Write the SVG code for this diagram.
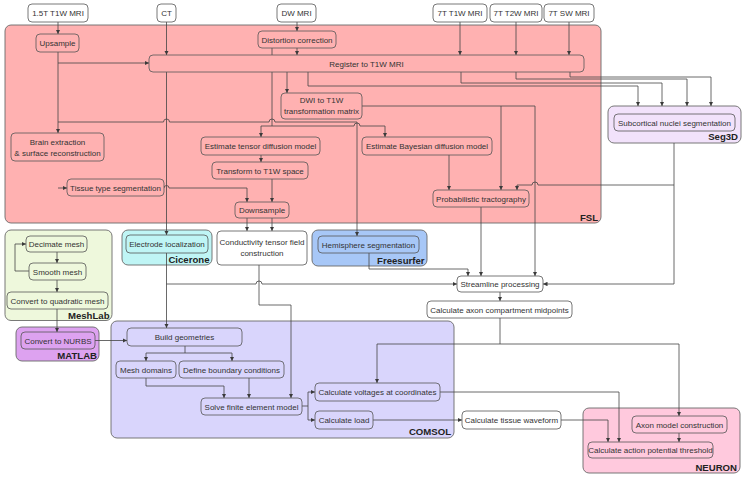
<svg xmlns="http://www.w3.org/2000/svg" width="745" height="478" viewBox="0 0 745 478">
<defs>
<marker id="ah" viewBox="0 0 6 6" refX="6" refY="3" markerWidth="4.5" markerHeight="4.5" orient="auto" markerUnits="userSpaceOnUse"><path d="M0,0 L6,3 L0,6 z" fill="#3a3a3a"/></marker>
</defs>
<style>
.grp{stroke:#6a6a6a;stroke-width:0.9}
.nd{stroke:#555;stroke-width:0.8}
.w{fill:#fff}
.fsl{fill:#ffb1b1}.seg{fill:#f2e2fb}.mesh{fill:#eef8dc}.cic{fill:#bff5f5}.fs{fill:#a7c7f7}.mat{fill:#dda2f0}.com{fill:#d9d5fc}.neu{fill:#ffc9dd}
text{font-family:"Liberation Sans",Arial,sans-serif;font-size:8px;fill:#333;text-anchor:middle}
text.lb{font-size:9.6px;font-weight:bold;fill:#222;text-anchor:end}
#conn path{fill:none;stroke:#444;stroke-width:0.8}
#conn path.a{marker-end:url(#ah)}
</style>
<g id="containers">
<g id="FSL"><rect class="grp fsl" x="5" y="25" width="596" height="198" rx="6"/><text class="lb" x="598" y="220.5">FSL</text></g>
<g id="Seg3D"><rect class="grp seg" x="608" y="106" width="133" height="37" rx="6"/><text class="lb" x="738" y="139.5">Seg3D</text></g>
<g id="MeshLab"><rect class="grp mesh" x="5" y="230" width="107" height="90.5" rx="6"/><text class="lb" x="109.5" y="318.5">MeshLab</text></g>
<g id="Cicerone"><rect class="grp cic" x="122" y="230" width="90" height="35" rx="6"/><text class="lb" x="209.5" y="263">Cicerone</text></g>
<g id="Freesurfer"><rect class="grp fs" x="312" y="230" width="115" height="36" rx="6"/><text class="lb" x="424.5" y="263.5">Freesurfer</text></g>
<g id="MATLAB"><rect class="grp mat" x="16" y="327" width="83" height="34" rx="6"/><text class="lb" x="97" y="358.5">MATLAB</text></g>
<g id="COMSOL"><rect class="grp com" x="111" y="321" width="343" height="117" rx="6"/><text class="lb" x="451" y="434.5">COMSOL</text></g>
<g id="NEURON"><rect class="grp neu" x="583" y="408" width="157" height="65" rx="6"/><text class="lb" x="737" y="470.5">NEURON</text></g>
</g>
<g id="conn">
<path class="a" d="M58,22 V34"/>
<path class="a" d="M58,52 V133"/>
<path class="a" d="M58,63 H149"/>
<path class="a" d="M166.5,22 V55"/>
<path class="a" d="M297,22 V31"/>
<path class="a" d="M297,48 V55"/>
<path class="a" d="M460,22 V55"/>
<path class="a" d="M516,22 V55"/>
<path class="a" d="M569,22 V55"/>
<path class="a" d="M166.5,72 V235"/>
<path class="a" d="M287,72 V93"/>
<path class="a" d="M308,72 V86 H638 V106"/>
<path class="a" d="M461,72 V83 H662 V106"/>
<path class="a" d="M516,72 V79 H687 V106"/>
<path class="a" d="M570,72 V77 H711 V106"/>
<path d="M272,48 V126"/>
<path class="a" d="M58,122 H163.5 A3,3 0 0 1 169.5,122 H269 A3,3 0 0 1 275,122 H357 V236"/>
<path class="a" d="M261,126 H354 A3,3 0 0 1 360,126 H385 V137"/>
<path class="a" d="M261,126 V137"/>
<path class="a" d="M362,106 H535 V276"/>
<path class="a" d="M501,106 V190"/>
<path class="a" d="M449,155 V190"/>
<path class="a" d="M261,155 V162"/>
<path class="a" d="M272,179 V202"/>
<path class="a" d="M58,188 H67"/>
<path class="a" d="M164,188 A2.5,2.5 0 0 1 169,188 H247 V202"/>
<path class="a" d="M247,218 V231"/>
<path class="a" d="M272,218 V231"/>
<path class="a" d="M674,143 V284 H543"/>
<path class="a" d="M674,185 H538 A3,3 0 0 0 532,185 H517 V190"/>
<path class="a" d="M481,207 V276"/>
<path class="a" d="M369,253 V269 H468 V276"/>
<path class="a" d="M166.5,253 V328"/>
<path class="a" d="M166.5,284 H256 A3,3 0 0 1 262,284 H457"/>
<path class="a" d="M259,265 V305 H291 V398"/>
<path class="a" d="M500,292 V301"/>
<path d="M500,318 V344"/>
<path class="a" d="M377,344 H679 V416"/>
<path class="a" d="M377,344 V383"/>
<path class="a" d="M440,392 H619 V442"/>
<path class="a" d="M373,420 H462"/>
<path class="a" d="M561,420 H608 V442"/>
<path class="a" d="M679,433 V442"/>
<path class="a" d="M302,406 H308 V392 H315"/>
<path class="a" d="M308,406 V420 H315"/>
<path class="a" d="M57,252 V263"/>
<path class="a" d="M57,280 V292"/>
<path class="a" d="M29,271 H15 V244 H26"/>
<path class="a" d="M57,309 V332"/>
<path class="a" d="M95,340.5 H127"/>
<path class="a" d="M185,346 V353 H146 V361"/>
<path class="a" d="M185,353 H232 V361"/>
<path class="a" d="M146,378 V386 H224 V398"/>
<path class="a" d="M249,378 V398"/>
</g>
<g id="nodes">
<g id="in_15t"><rect class="nd w" x="28" y="4" width="60" height="18" rx="4"/><text x="58" y="16">1.5T T1W MRI</text></g>
<g id="in_ct"><rect class="nd w" x="157" y="4" width="19" height="18" rx="4"/><text x="166.5" y="16">CT</text></g>
<g id="in_dw"><rect class="nd w" x="277" y="4" width="39" height="18" rx="4"/><text x="296.5" y="16">DW MRI</text></g>
<g id="in_7t1"><rect class="nd w" x="433" y="4" width="54" height="18" rx="4"/><text x="460" y="16">7T T1W MRI</text></g>
<g id="in_7t2"><rect class="nd w" x="490" y="4" width="52" height="18" rx="4"/><text x="516" y="16">7T T2W MRI</text></g>
<g id="in_7sw"><rect class="nd w" x="544" y="4" width="50" height="18" rx="4"/><text x="569" y="16">7T SW MRI</text></g>
<g id="upsample"><rect class="nd fsl" x="36" y="34" width="43" height="18" rx="4"/><text x="57.5" y="46">Upsample</text></g>
<g id="distortion"><rect class="nd fsl" x="258" y="31" width="78" height="17" rx="4"/><text x="297" y="42.5">Distortion correction</text></g>
<g id="register"><rect class="nd fsl" x="149" y="55" width="435" height="17" rx="4"/><text x="366.5" y="66.5">Register to T1W MRI</text></g>
<g id="dwi2t1w"><rect class="nd fsl" x="281" y="93" width="81" height="26" rx="4"/><text x="321.5" y="103">DWI to T1W</text><text x="321.5" y="113.5">transformation matrix</text></g>
<g id="brainext"><rect class="nd fsl" x="11" y="133" width="93" height="28" rx="4"/><text x="57.5" y="144.5">Brain extraction</text><text x="57.5" y="155.5">&amp; surface reconstruction</text></g>
<g id="tensor"><rect class="nd fsl" x="201" y="137" width="119" height="18" rx="4"/><text x="260.5" y="149">Estimate tensor diffusion model</text></g>
<g id="bayes"><rect class="nd fsl" x="362" y="137" width="130" height="18" rx="4"/><text x="427" y="149">Estimate Bayesian diffusion model</text></g>
<g id="transform"><rect class="nd fsl" x="212" y="162" width="96" height="17" rx="4"/><text x="260" y="173.5">Transform to T1W space</text></g>
<g id="tissue"><rect class="nd fsl" x="67" y="179" width="97" height="17" rx="4"/><text x="115.5" y="190.5">Tissue type segmentation</text></g>
<g id="downsample"><rect class="nd fsl" x="235" y="202" width="54" height="16" rx="4"/><text x="262" y="213">Downsample</text></g>
<g id="probtract"><rect class="nd fsl" x="433" y="190" width="96" height="17" rx="4"/><text x="481" y="201.5">Probabilistic tractography</text></g>
<g id="subcortical"><rect class="nd seg" x="614" y="114" width="121" height="17" rx="4"/><text x="674.5" y="125.5">Subcortical nuclei segmentation</text></g>
<g id="decimate"><rect class="nd mesh" x="26" y="236" width="61" height="16" rx="4"/><text x="56.5" y="247">Decimate mesh</text></g>
<g id="smooth"><rect class="nd mesh" x="29" y="263" width="57" height="17" rx="4"/><text x="57.5" y="274.5">Smooth mesh</text></g>
<g id="quadratic"><rect class="nd mesh" x="7" y="292" width="101" height="17" rx="4"/><text x="57.5" y="303.5">Convert to quadratic mesh</text></g>
<g id="electrode"><rect class="nd cic" x="126" y="235" width="82" height="18" rx="4"/><text x="167" y="247">Electrode localization</text></g>
<g id="conductivity"><rect class="nd w" x="217" y="231" width="90" height="34" rx="4"/><text x="262" y="244.5">Conductivity tensor field</text><text x="262" y="255.5">construction</text></g>
<g id="hemisphere"><rect class="nd fs" x="318" y="236" width="101" height="17" rx="4"/><text x="368.5" y="247.5">Hemisphere segmentation</text></g>
<g id="streamline"><rect class="nd w" x="457" y="276" width="86" height="16" rx="4"/><text x="500" y="287">Streamline processing</text></g>
<g id="midpoints"><rect class="nd w" x="427" y="301" width="145" height="17" rx="4"/><text x="499.5" y="312.5">Calculate axon compartment midpoints</text></g>
<g id="nurbs"><rect class="nd mat" x="21" y="332" width="74" height="17" rx="4"/><text x="58" y="343.5">Convert to NURBS</text></g>
<g id="build"><rect class="nd com" x="127" y="328" width="115" height="18" rx="4"/><text x="184.5" y="340">Build geometries</text></g>
<g id="meshdom"><rect class="nd com" x="116" y="361" width="60" height="17" rx="4"/><text x="146" y="372.5">Mesh domains</text></g>
<g id="boundary"><rect class="nd com" x="179" y="361" width="105" height="17" rx="4"/><text x="231.5" y="372.5">Define boundary conditions</text></g>
<g id="solve"><rect class="nd com" x="201" y="398" width="101" height="17" rx="4"/><text x="251.5" y="409.5">Solve finite element model</text></g>
<g id="voltages"><rect class="nd com" x="315" y="383" width="125" height="18" rx="4"/><text x="377.5" y="395">Calculate voltages at coordinates</text></g>
<g id="load"><rect class="nd com" x="315" y="411" width="58" height="18" rx="4"/><text x="344" y="423">Calculate load</text></g>
<g id="waveform"><rect class="nd w" x="462" y="411" width="99" height="18" rx="4"/><text x="511.5" y="423">Calculate tissue waveform</text></g>
<g id="axon"><rect class="nd neu" x="632" y="416" width="95" height="17" rx="4"/><text x="679.5" y="427.5">Axon model construction</text></g>
<g id="apthreshold"><rect class="nd neu" x="588" y="442" width="125" height="16" rx="4"/><text x="650.5" y="453">Calculate action potential threshold</text></g>
</g>
</svg>
